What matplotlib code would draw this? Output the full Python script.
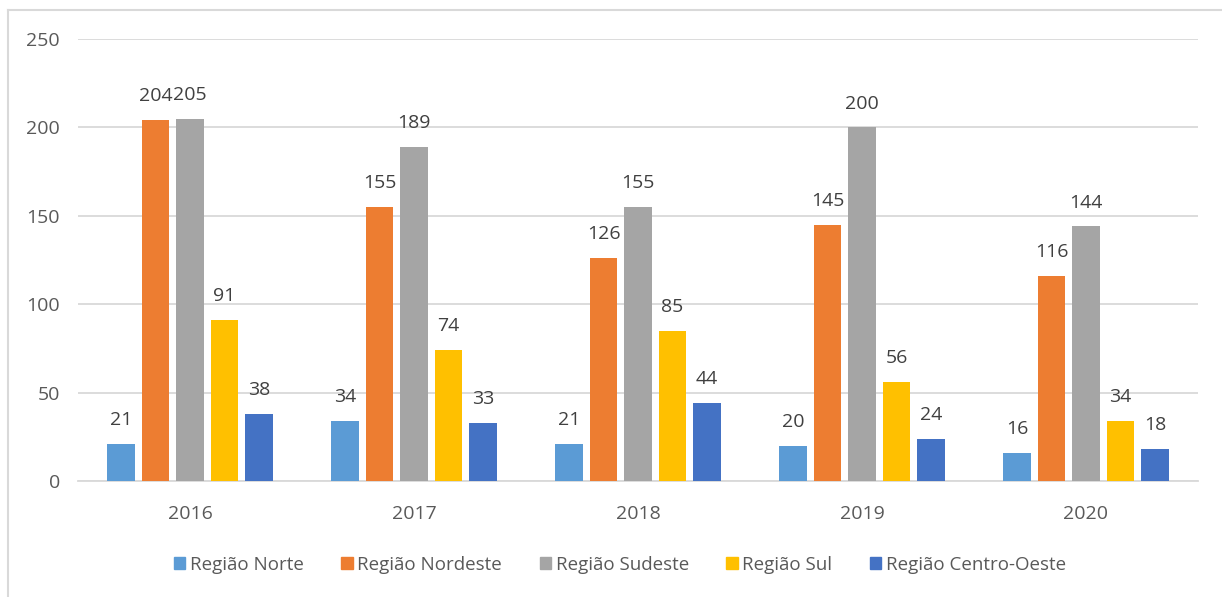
import matplotlib
matplotlib.use("Agg")
import matplotlib.pyplot as plt
import numpy as np
from matplotlib.patches import Rectangle
from matplotlib.lines import Line2D

years = ["2016", "2017", "2018", "2019", "2020"]
series_names = ["Região Norte", "Região Nordeste", "Região Sudeste", "Região Sul", "Região Centro-Oeste"]
norte = [21, 34, 21, 20, 16]
nordeste = [204, 155, 126, 145, 116]
sudeste = [205, 189, 155, 200, 144]
sul = [91, 74, 85, 56, 34]
centro_oeste = [38, 33, 44, 24, 18]
y_ticks = [0, 50, 100, 150, 200, 250]

series = [norte, nordeste, sudeste, sul, centro_oeste]
colors = ["#5B9BD5", "#ED7D31", "#A5A5A5", "#FFC000", "#4472C4"]

plt.rcParams['font.family'] = ['Open Sans', 'DejaVu Sans']

fig = plt.figure(figsize=(12.22, 5.97), dpi=100)
ax = fig.add_axes([78/1222, 1-481/597, (1198-78)/1222, (481-39)/597])

x = np.arange(len(years))
step = 0.154
width = 0.122
for i, (vals, c, name) in enumerate(zip(series, colors, series_names)):
    pos = x + (i - 2) * step
    ax.bar(pos, vals, width=width, color=c, label=name, zorder=3)
    for p, v in zip(pos, vals):
        ax.text(p, v + 13.5, str(v), ha="center", va="center", fontsize=14, color="#404040")

ax.set_xlim(-0.5, 4.5)
ax.set_ylim(0, 250)
ax.set_yticks(y_ticks)
ax.set_xticks(x)
ax.set_xticklabels(years)
ax.tick_params(axis="both", length=0, labelsize=14, labelcolor="#595959")
ax.tick_params(axis="y", pad=13)
ax.tick_params(axis="x", pad=17)
ax.grid(axis="y", color="#D9D9D9", linewidth=1.3, zorder=0)
for s in ["top", "right", "left"]:
    ax.spines[s].set_visible(False)
ax.spines["bottom"].set_color("#D9D9D9")
ax.spines["bottom"].set_linewidth(1.3)

handles = [Rectangle((0, 0), 1, 1, color=c) for c in colors]
fig.legend(handles, series_names, loc="center", bbox_to_anchor=(620/1222, 1-565/597),
           ncol=5, frameon=False, fontsize=13.5, handlelength=0.6, handleheight=0.6,
           handletextpad=0.25, columnspacing=2.0, labelcolor="#595959")

# outer chart frame
fig.add_artist(Line2D([8/1222, 8/1222], [0, 1-10/597], transform=fig.transFigure, color="#D9D9D9", lw=1.5))
fig.add_artist(Line2D([8/1222, 1], [1-10/597, 1-10/597], transform=fig.transFigure, color="#D9D9D9", lw=1.5))

fig.savefig("out.png", dpi=100)
